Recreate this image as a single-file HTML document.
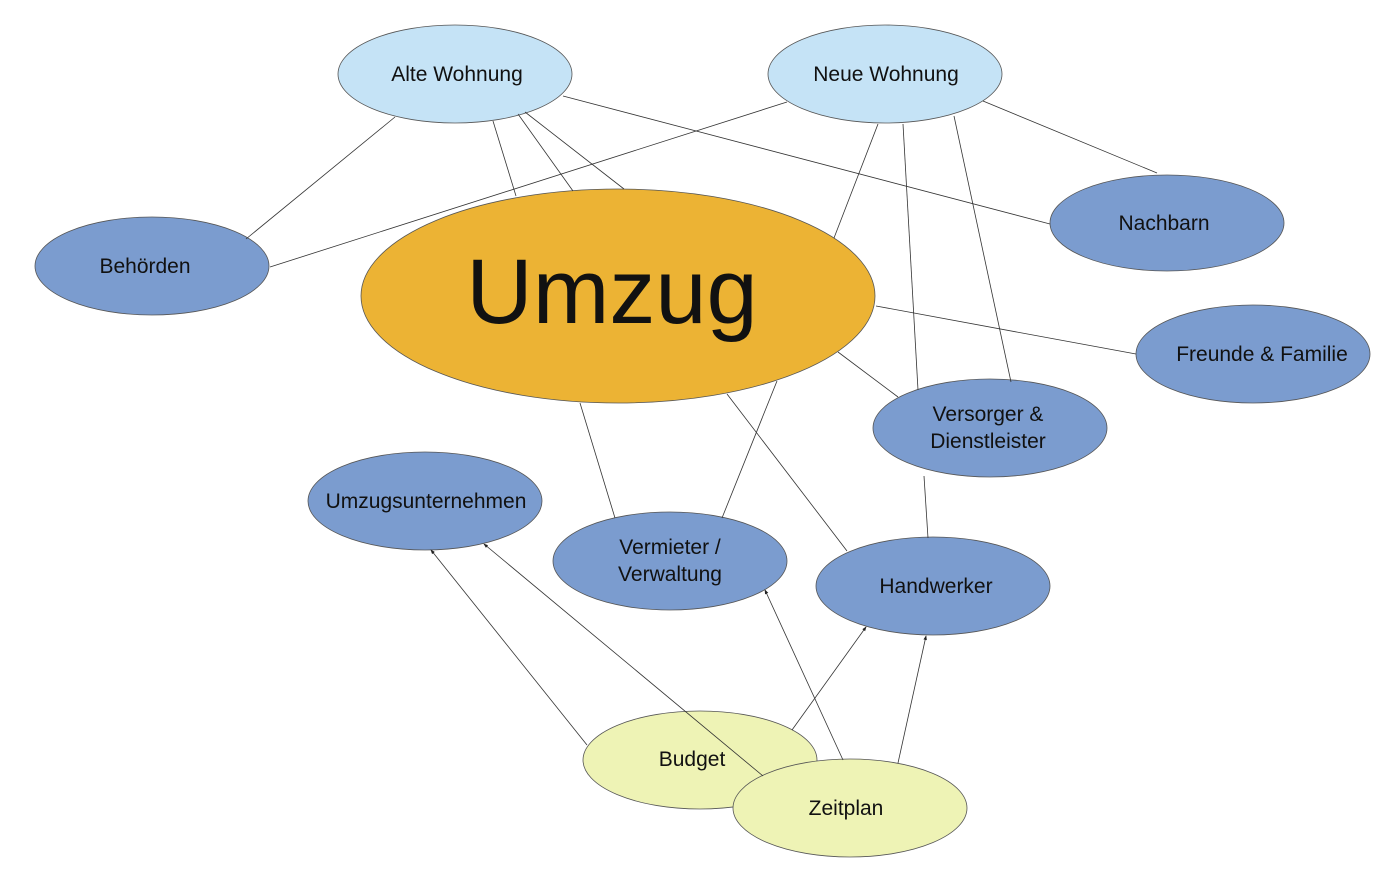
<!DOCTYPE html>
<html><head><meta charset="utf-8"><style>html,body{margin:0;padding:0;background:#fff}svg{display:block}text{font-family:"Liberation Sans",sans-serif;fill:#111;text-anchor:middle}</style></head><body>
<svg width="1400" height="883" viewBox="0 0 1400 883" xmlns="http://www.w3.org/2000/svg">
<defs><marker id="a" markerWidth="6" markerHeight="6" refX="5" refY="3" orient="auto"><path d="M0,0.8 L6,3 L0,5.2 z" fill="#222"/></marker></defs>
<g stroke="#555" stroke-width="0.8">
<ellipse cx="455" cy="74" rx="117" ry="49" fill="#c5e3f6"/>
<ellipse cx="885" cy="74" rx="117" ry="49" fill="#c5e3f6"/>
<ellipse cx="1167" cy="223" rx="117" ry="48" fill="#7b9ccf"/>
<ellipse cx="152" cy="266" rx="117" ry="49" fill="#7b9ccf"/>
<ellipse cx="618" cy="296" rx="257" ry="107" fill="#ecb334"/>
<ellipse cx="1253" cy="354" rx="117" ry="49" fill="#7b9ccf"/>
<ellipse cx="990" cy="428" rx="117" ry="49" fill="#7b9ccf"/>
<ellipse cx="425" cy="501" rx="117" ry="49" fill="#7b9ccf"/>
<ellipse cx="670" cy="561" rx="117" ry="49" fill="#7b9ccf"/>
<ellipse cx="933" cy="586" rx="117" ry="49" fill="#7b9ccf"/>
<ellipse cx="700" cy="760" rx="117" ry="49" fill="#eef3b5"/>
<ellipse cx="850" cy="808" rx="117" ry="49" fill="#eef3b5"/>
</g>
<g stroke="#333" stroke-width="0.8" fill="none">
<line x1="395" y1="117" x2="246" y2="239"/>
<line x1="493" y1="121" x2="516" y2="196"/>
<line x1="518" y1="114" x2="573" y2="191"/>
<line x1="525" y1="112" x2="624" y2="189"/>
<line x1="563" y1="96" x2="1050" y2="224"/>
<line x1="787" y1="102" x2="270" y2="267"/>
<line x1="878" y1="124" x2="834" y2="238"/>
<line x1="903" y1="124" x2="918" y2="390"/>
<line x1="954" y1="116" x2="1011" y2="382"/>
<line x1="983" y1="101" x2="1157" y2="173"/>
<line x1="876" y1="306" x2="1136" y2="354"/>
<line x1="838" y1="352" x2="898" y2="397"/>
<line x1="580" y1="403" x2="615" y2="518"/>
<line x1="777" y1="381" x2="722" y2="518"/>
<line x1="727" y1="394" x2="847" y2="551"/>
<line x1="924" y1="476" x2="928" y2="538"/>
<line x1="587" y1="745" x2="431" y2="550" marker-end="url(#a)"/>
<line x1="763" y1="776" x2="484" y2="544" marker-end="url(#a)"/>
<line x1="843" y1="760" x2="765" y2="590" marker-end="url(#a)"/>
<line x1="792" y1="730" x2="866" y2="627" marker-end="url(#a)"/>
<line x1="898" y1="763" x2="926" y2="636" marker-end="url(#a)"/>
</g>
<g font-size="21">
<text x="457" y="81">Alte Wohnung</text>
<text x="886" y="81">Neue Wohnung</text>
<text x="1164" y="230">Nachbarn</text>
<text x="145" y="273">Behörden</text>
<text x="1262" y="361">Freunde &amp; Familie</text>
<text x="988" y="421">Versorger &amp;</text>
<text x="988" y="448">Dienstleister</text>
<text x="426" y="508">Umzugsunternehmen</text>
<text x="670" y="554">Vermieter /</text>
<text x="670" y="581">Verwaltung</text>
<text x="936" y="593">Handwerker</text>
<text x="692" y="766">Budget</text>
<text x="846" y="815">Zeitplan</text>
</g>
<text x="612" y="323" font-size="92">Umzug</text>
</svg>
</body></html>
